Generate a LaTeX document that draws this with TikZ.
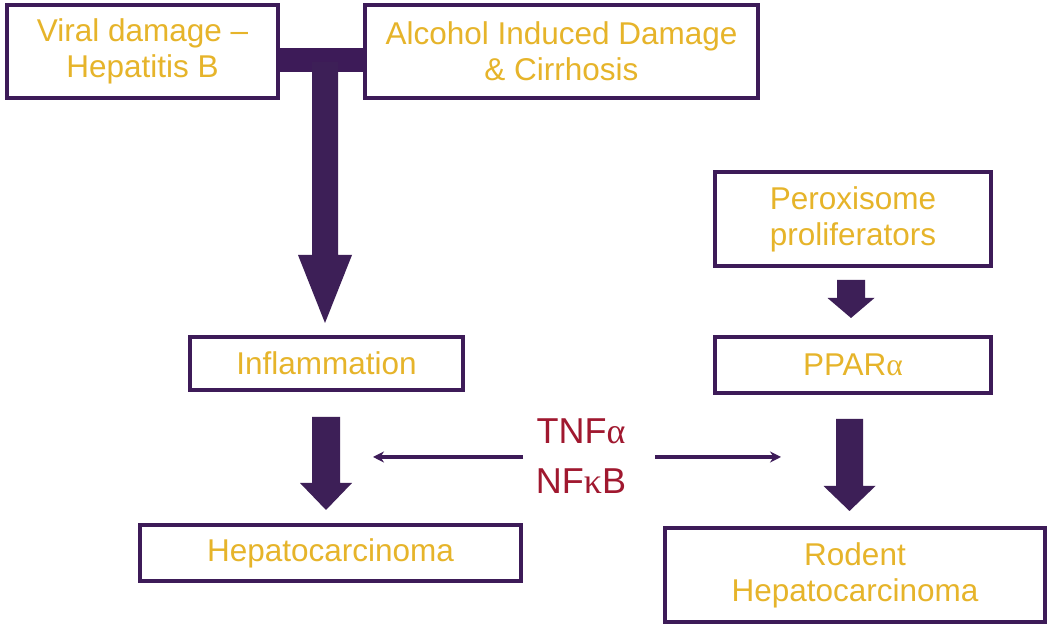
\documentclass[tikz,border=0pt]{standalone}
\usepackage{fontspec}
\setmainfont{Liberation Sans}
\newfontfamily\greekfont{Liberation Serif}
\usetikzlibrary{calc,arrows.meta}
\definecolor{boxpurple}{HTML}{3D1B58}
\definecolor{gold}{HTML}{E6B42A}
\definecolor{darkred}{HTML}{A0182F}
\definecolor{arrfill}{HTML}{3D1F57}
\tikzset{
  box/.style={draw=boxpurple, line width=4pt, fill=white, inner sep=0pt,
    align=center, text=gold, font=\fontsize{31.5}{36}\selectfont},
  arrowshade/.style={fill=arrfill},
  thinarrow/.style={draw=boxpurple, line width=4pt, -{Stealth[length=11pt,width=11pt]}},
  redtext/.style={text=darkred, align=center, inner sep=0pt, font=\fontsize{36}{50}\selectfont}
}
\newcommand\blockarrow[5]{%
  \fill[arrowshade] let \p1=#1, \p2=#2 in
    (\x1-#3pt,\y1) -- (\x1+#3pt,\y1) -- (\x1+#3pt,\y2+#5pt) -- (\x1+#4pt,\y2+#5pt)
    -- (\x1,\y2) -- (\x1-#4pt,\y2+#5pt) -- (\x1-#3pt,\y2+#5pt) -- cycle;}
\begin{document}
\begin{tikzpicture}[x=1pt,y=1pt]
\useasboundingbox[fill=white] (0,0) rectangle (1050,628);
% boxes
\node[box, minimum width=271pt, minimum height=93pt] (viral) at (142.5,576.5) {Viral damage --\\Hepatitis B};
\node[box, minimum width=393pt, minimum height=93pt] (alcohol) at (561.5,576.5) {Alcohol Induced Damage\\\& Cirrhosis};
\node[box, minimum width=276pt, minimum height=94pt] (perox) at (853,409) {Peroxisome\\proliferators};
\node[box, minimum width=273pt, minimum height=53pt] (inflam) at (326.5,264.5) {Inflammation};
\node[box, minimum width=276pt, minimum height=56pt] (ppar) at (853,263) {PPAR{\greekfont α}};
\node[box, minimum width=381pt, minimum height=56pt] (hepato) at (330.5,75) {Hepatocarcinoma};
\node[box, minimum width=380pt, minimum height=94pt] (rodent) at (855,53) {Rodent\\Hepatocarcinoma};
% joining bar
\fill[boxpurple] ([yshift=-20.5pt]viral.east) rectangle ([yshift=3.5pt]alcohol.west);
\coordinate (junction) at (325,566);
% block arrows
\blockarrow{(junction)}{([yshift=12pt]inflam.north)}{13}{27}{68}
\blockarrow{([yshift=-12pt,xshift=-2pt]perox.south)}{([yshift=17pt]ppar.north)}{14}{23.5}{20}
\blockarrow{([yshift=-25pt,xshift=-0.5pt]inflam.south)}{([yshift=13pt]hepato.north)}{14}{26}{27}
\blockarrow{([yshift=-24pt,xshift=-3.5pt]ppar.south)}{([yshift=15pt]rodent.north)}{13.5}{26}{25}
% TNF / NFkB
\node[redtext] (tnf) at (581,172) {TNF{\greekfont α}\\NF{\greekfont κ}B};
\coordinate (lstart) at (523,171);
\coordinate (lend) at (373,171);
\coordinate (rstart) at (655,171);
\coordinate (rend) at (781,171);
\draw[thinarrow] (lstart) -- (lend);
\draw[thinarrow] (rstart) -- (rend);
\end{tikzpicture}
\end{document}
